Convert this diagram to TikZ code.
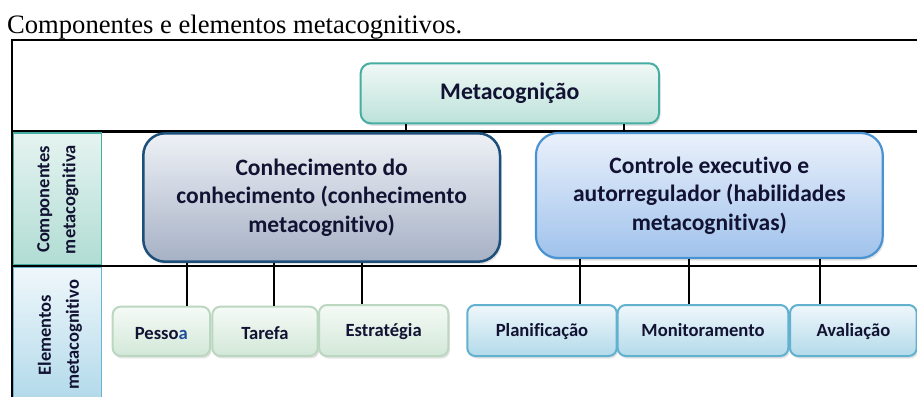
\documentclass[tikz,border=0pt]{standalone}
\usepackage{fontspec}
\setmainfont{Carlito}[Ligatures=NoCommon]
\newfontfamily\capfont{Liberation Serif}
\usetikzlibrary{shadows}
\definecolor{txt}{HTML}{121232}
\definecolor{pblue}{HTML}{1F4E9A}
\definecolor{tealB}{HTML}{46ADA2}
\definecolor{tealT}{HTML}{F0F8F6}
\definecolor{tealBo}{HTML}{BCE2D9}
\definecolor{conB}{HTML}{1C4F7A}
\definecolor{conT}{HTML}{EEF1F6}
\definecolor{conBo}{HTML}{A6B1C5}
\definecolor{ctlB}{HTML}{4A93D2}
\definecolor{ctlT}{HTML}{EAF1FB}
\definecolor{ctlBo}{HTML}{A0C2EC}
\definecolor{elgB}{HTML}{BBD7C1}
\definecolor{elgT}{HTML}{F5FAF6}
\definecolor{elgBo}{HTML}{D2E8D8}
\definecolor{elbB}{HTML}{62B1CF}
\definecolor{elbT}{HTML}{EFF7FB}
\definecolor{elbBo}{HTML}{B3DAEA}
\definecolor{cellB}{HTML}{6AB4D3}
\begin{document}
\begin{tikzpicture}[x=1pt,y=-1pt,
  frame/.style={line width=2.8pt, black},
  conn/.style={line width=2pt, black},
  boxbase/.style={inner sep=0pt, align=center, text=txt, font=\bfseries,
    drop shadow={opacity=0.22, shadow xshift=1.5pt, shadow yshift=-2.5pt}},
  metabox/.style={boxbase, draw=tealB, line width=2pt, rounded corners=10pt,
    top color=tealT, bottom color=tealBo, font=\bfseries\fontsize{23.8}{28}\selectfont},
  conbox/.style={boxbase, draw=conB, line width=2.5pt, rounded corners=22pt,
    top color=conT, bottom color=conBo, font=\bfseries\fontsize{23.5}{28.5}\selectfont},
  ctlbox/.style={boxbase, draw=ctlB, line width=2.2pt, rounded corners=22pt,
    top color=ctlT, bottom color=ctlBo, font=\bfseries\fontsize{23.5}{28.5}\selectfont},
  elfont/.style={font=\bfseries\fontsize{18.6}{22}\selectfont},
  elgbox/.style={boxbase, elfont, draw=elgB, line width=2pt, rounded corners=8pt,
    top color=elgT, bottom color=elgBo},
  elbbox/.style={boxbase, elfont, draw=elbB, line width=2pt, rounded corners=8pt,
    top color=elbT, bottom color=elbBo},
  lowtext/.style={text height=19pt, text depth=3.6pt},
  hightext/.style={text height=15pt, text depth=4pt},
  sidelabel/.style={rotate=90, align=center, text=txt, inner sep=0pt}
]
\useasboundingbox (0,0) rectangle (917,396);
\fill[white] (0,0) rectangle (917,396);

% caption
\node[anchor=base west, inner sep=0pt, font=\capfont\fontsize{26.6}{30}\selectfont] (cap) at (7,33.3) {Componentes e elementos metacognitivos.};

% frame
\draw[frame] (918,40) -- (12,40) -- (12,397);
\draw[frame] (12,131.7) -- (918,131.7);
\draw[frame] (12,266) -- (918,266);

% side cells
\draw[draw=tealB, line width=1.5pt, top color=tealT!80!tealBo, bottom color=tealBo!90!tealB] (13.5,133.2) rectangle (101.7,264.6);
\draw[draw=cellB, line width=1.5pt, top color=elbT, bottom color=elbBo] (13.5,267.5) rectangle (101.7,398);
\node[sidelabel, font=\bfseries\fontsize{18.5}{26}\selectfont] (lab1) at (58,199.5) {Componentes\\metacognitiva};
\node[sidelabel, font=\bfseries\fontsize{18.5}{28}\selectfont] (lab2) at (60,335) {Elementos\\metacognitivo};

% main boxes
\node[metabox, minimum width=298.3pt, minimum height=60pt] (meta) at (509.85,93.3) {Metacognição};
\node[conbox, minimum width=356.7pt, minimum height=128.4pt] (conh) at (321.65,197.5) {Conhecimento do\\conhecimento (conhecimento\\metacognitivo)};
\node[ctlbox, minimum width=346.7pt, minimum height=125pt] (ctl) at (709.35,195.5) {Controle executivo e\\autorregulador (habilidades\\metacognitivas)};

% element boxes
\node[elgbox, lowtext, minimum width=97.3pt, minimum height=49.3pt] (pes) at (161.35,331.3) {Pesso{\color{pblue}a}};
\node[elgbox, lowtext, minimum width=105.4pt, minimum height=49.3pt] (tar) at (265,331.3) {Tarefa};
\node[elgbox, hightext, minimum width=129.3pt, minimum height=51pt] (est) at (383.65,330.5) {Estratégia};
\node[elbbox, hightext, minimum width=149.4pt, minimum height=51pt] (pla) at (542,330.5) {Planificação};
\node[elbbox, hightext, minimum width=170.6pt, minimum height=51pt] (mon) at (703,330.5) {Monitoramento};
\node[elbbox, hightext, minimum width=126.7pt, minimum height=51pt] (ava) at (853.35,330.5) {Avaliação};

% connectors
\draw[conn] (meta.south -| 405.7,0) -- (conh.north -| 405.7,0);
\draw[conn] (meta.south -| 624,0) -- (ctl.north -| 624,0);
\draw[conn] (conh.south -| 187.3,0) -- (pes.north -| 187.3,0);
\draw[conn] (conh.south -| 274.3,0) -- (tar.north -| 274.3,0);
\draw[conn] (conh.south -| 361.7,0) -- (est.north -| 361.7,0);
\draw[conn] (ctl.south -| 580,0) -- (pla.north -| 580,0);
\draw[conn] (ctl.south -| 689,0) -- (mon.north -| 689,0);
\draw[conn] (ctl.south -| 820,0) -- (ava.north -| 820,0);
\end{tikzpicture}
\end{document}
